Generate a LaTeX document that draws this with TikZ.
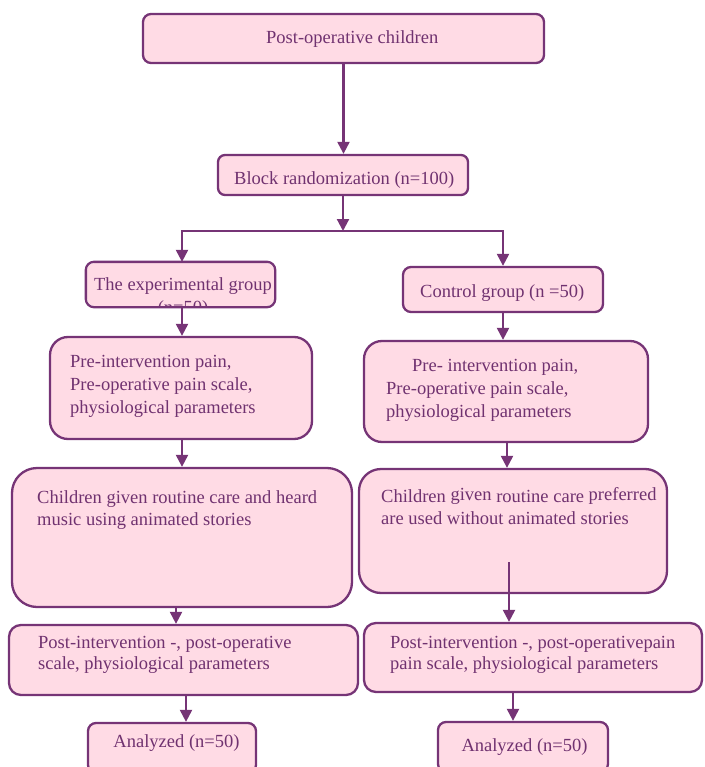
\documentclass[tikz,border=0pt]{standalone}
\usepackage{fontspec}
\setmainfont{Liberation Serif}
\usetikzlibrary{arrows.meta}
\definecolor{boxfill}{RGB}{255,219,229}
\definecolor{boxline}{RGB}{118,52,118}
\definecolor{txtc}{RGB}{112,50,112}
\newcommand{\mylines}[1]{\begin{tabular}[t]{@{}l@{}}#1\end{tabular}}
\begin{document}
\begin{tikzpicture}[x=1pt,y=-1pt,
  box/.style={draw=boxline, fill=boxfill, line width=2.3pt, inner sep=0pt},
  txt/.style={text=txtc, font=\fontsize{18.5}{23}\selectfont, inner sep=0pt, anchor=base west},
  arr/.style={draw=boxline, line width=2.2pt, -{Triangle[width=12pt,length=12pt]}},
  ln/.style={draw=boxline, line width=2.2pt}]
\useasboundingbox (0,0) rectangle (704,767);
\clip (0,0) rectangle (704,767);
% boxes
\node[box, rounded corners=8pt, minimum width=401pt, minimum height=49pt] (b1) at (343.5,38.5) {};
\node[box, rounded corners=7pt, minimum width=250pt, minimum height=40pt] (b2) at (343,175) {};
\node[box, draw=none, rounded corners=8pt, minimum width=187pt, minimum height=43pt] (exp) at (180.5,284.5) {};
\node[box, rounded corners=8pt, minimum width=200pt, minimum height=45pt] (ctl) at (503,289.5) {};
\node[box, rounded corners=18pt, minimum width=262pt, minimum height=102pt] (preL) at (181,388) {};
\node[box, rounded corners=18pt, minimum width=284pt, minimum height=101pt] (preR) at (506,391.5) {};
\node[box, rounded corners=25pt, minimum width=340pt, minimum height=139pt] (chL) at (182,537.5) {};
\node[box, rounded corners=22pt, minimum width=308pt, minimum height=124pt] (chR) at (513,531) {};
\node[box, rounded corners=12pt, minimum width=349pt, minimum height=70pt] (postL) at (183.5,660) {};
\node[box, rounded corners=12pt, minimum width=338pt, minimum height=69pt] (postR) at (533,657.5) {};
\node[box, rounded corners=8pt, minimum width=168pt, minimum height=50pt] (anL) at (172,748) {};
\node[box, rounded corners=8pt, minimum width=170pt, minimum height=50pt] (anR) at (523,747) {};
% texts
\node[txt] (t1) at (266,44) {Post-operative children};
\node[txt] (t2) at (234,185) {Block randomization (n=100)};
\begin{scope}
\clip[rounded corners=8pt] (exp.south west) rectangle (exp.north east);
\node[txt, anchor=base] (t3) at (183,290) {\begin{tabular}[t]{@{}c@{}}The experimental group\\(n=50)\end{tabular}};
\end{scope}
\draw[ln, line width=2.3pt, rounded corners=8pt] (exp.south west) rectangle (exp.north east);
\node[txt] (t4) at (420,297) {Control group (n =50)};
\node[txt] (t5) at (70,367) {\mylines{Pre-intervention pain,\\Pre-operative pain scale,\\physiological parameters}};
\node[txt] (t6) at (386,371) {\mylines{\hspace*{26pt}Pre- intervention pain,\\Pre-operative pain scale,\\physiological parameters}};
\node[txt, font=\fontsize{18.5}{22}\selectfont] (t7) at (37,503) {\mylines{Children given routine care and heard\\music using animated stories}};
\node[txt, font=\fontsize{18.5}{22}\selectfont] (t8) at (381,502) {\mylines{Children \raisebox{1.5pt}{given} routine care \raisebox{1.5pt}{preferred}\\are used without animated stories}};
\node[txt, font=\fontsize{18.5}{21.5}\selectfont] (t9) at (38,648) {\mylines{Post-intervention -, post-operative\\scale, physiological parameters}};
\node[txt, font=\fontsize{18.5}{21.5}\selectfont] (t10) at (390,648) {\mylines{Post-intervention -, post-operativepain\\pain scale, physiological parameters}};
\node[txt, anchor=base] (t11) at (176.5,747) {Analyzed (n=50)};
\node[txt, anchor=base] (t12) at (524.5,751) {Analyzed (n=50)};
% connectors
\coordinate (bus) at (343,231);
\coordinate (busL) at (182,231);
\coordinate (busR) at (503,231);
\coordinate (chRin) at (509,562);
\draw[arr] (b1.south) -- (b1.south |- b2.north);
\draw[arr] (b2.south) -- (bus);
\draw[ln] ([xshift=-1.1pt]busL) -- ([xshift=1.1pt]busR);
\draw[arr] (busL) -- (busL |- exp.north);
\draw[arr] (busR) -- (busR |- ctl.north);
\draw[arr] ([xshift=1.5pt]exp.south) -- ([xshift=1.5pt]exp.south |- preL.north);
\draw[arr] (ctl.south) -- (ctl.south |- preR.north);
\draw[arr] ([xshift=1pt]preL.south) -- ([xshift=1pt]preL.south |- chL.north);
\draw[arr] ([xshift=1pt]preR.south) -- ([xshift=1pt]preR.south |- chR.north);
\draw[arr] ([xshift=-6pt]chL.south) -- ([xshift=-6pt]chL.south |- postL.north);
\draw[arr] (chRin) -- (chRin |- postR.north);
\draw[arr] ([xshift=2.5pt]postL.south) -- ([xshift=2.5pt]postL.south |- anL.north);
\draw[arr] ([xshift=-20pt]postR.south) -- ([xshift=-20pt]postR.south |- anR.north);
\end{tikzpicture}
\end{document}
